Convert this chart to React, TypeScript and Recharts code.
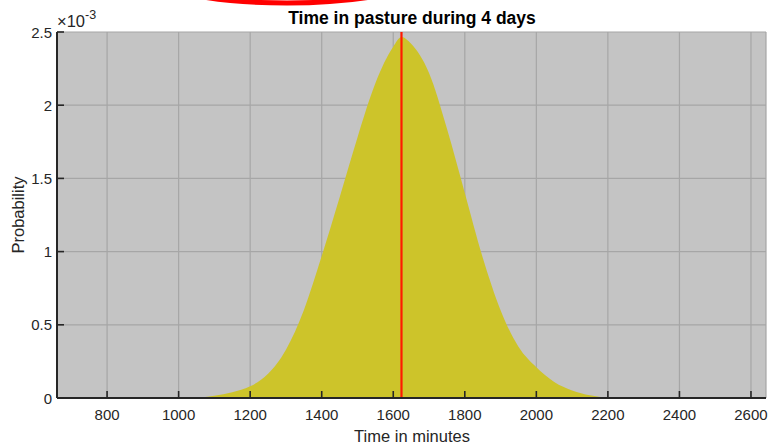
import React from 'react';
import { AreaChart, Area, XAxis, YAxis, CartesianGrid, ReferenceLine } from 'recharts';

const minutes = [1050, 1100, 1150, 1200, 1250, 1300, 1350, 1400, 1450, 1500, 1550, 1600, 1623, 1650, 1700, 1750, 1800, 1850, 1900, 1950, 2000, 2050, 2100, 2150, 2200];
const probability = [0, 0.015, 0.04, 0.08, 0.165, 0.33, 0.6, 0.97, 1.37, 1.78, 2.15, 2.4, 2.466, 2.42, 2.22, 1.84, 1.4, 0.96, 0.6, 0.35, 0.21, 0.11, 0.052, 0.018, 0];
const xTicks = [800, 1000, 1200, 1400, 1600, 1800, 2000, 2200, 2400, 2600];
const yTicks = [0, 0.5, 1, 1.5, 2, 2.5];
const meanMinutes = 1623;
const xDomain = [660, 2642];
const yDomain = [0, 2.5];

const data = minutes.map((m, i) => ({ m, p: probability[i] }));

const FONT = '"Liberation Sans", Arial, Helvetica, sans-serif';
const INK = '#262626';
const TICK_LEN = 7;
const MARGIN = { top: 32, right: 3, bottom: 0, left: 0 };

const EmptyTick = () => <g />;

const BottomTick = (props: any) => {
  const { x, y, payload } = props;
  return (
    <g>
      <line x1={x} x2={x} y1={y} y2={y - TICK_LEN} stroke={INK} strokeWidth={1.6} />
      <text x={x} y={y + 22} textAnchor="middle" fontSize={15} fontFamily={FONT} fill={INK}>
        {payload.value}
      </text>
    </g>
  );
};

const TopTick = (props: any) => {
  const { x, y } = props;
  return <line x1={x} x2={x} y1={y} y2={y + TICK_LEN} stroke={INK} strokeWidth={1.6} />;
};

const LeftTick = (props: any) => {
  const { x, y, payload } = props;
  return (
    <g>
      <line x1={x} x2={x + TICK_LEN} y1={y} y2={y} stroke={INK} strokeWidth={1.6} />
      <text x={x - 5} y={y + 5.5} textAnchor="end" fontSize={15} fontFamily={FONT} fill={INK}>
        {String(payload.value)}
      </text>
    </g>
  );
};

const RightTick = (props: any) => {
  const { x, y } = props;
  return <line x1={x} x2={x - TICK_LEN} y1={y} y2={y} stroke={INK} strokeWidth={1.6} />;
};

function Axes(props: { visible: boolean }) {
  const v = props.visible;
  return [
    <XAxis
      key="xb"
      xAxisId={0}
      dataKey="m"
      type="number"
      domain={xDomain}
      ticks={xTicks}
      allowDataOverflow
      height={46}
      tickSize={0}
      tickMargin={0}
      tickLine={false}
      axisLine={v ? { stroke: INK, strokeWidth: 2 } : false}
      tick={v ? BottomTick : EmptyTick}
      interval={0}
    />,
    <XAxis
      key="xt"
      xAxisId="top"
      orientation="top"
      dataKey="m"
      type="number"
      domain={xDomain}
      ticks={xTicks}
      allowDataOverflow
      height={0}
      tickSize={0}
      tickMargin={0}
      tickLine={false}
      axisLine={v ? { stroke: INK, strokeWidth: 2 } : false}
      tick={v ? TopTick : EmptyTick}
      interval={0}
    />,
    <YAxis
      key="yl"
      yAxisId={0}
      type="number"
      domain={yDomain}
      ticks={yTicks}
      allowDataOverflow
      width={57}
      tickSize={0}
      tickMargin={0}
      tickLine={false}
      axisLine={v ? { stroke: INK, strokeWidth: 2 } : false}
      tick={v ? LeftTick : EmptyTick}
      interval={0}
    />,
    <YAxis
      key="yr"
      yAxisId="right"
      orientation="right"
      type="number"
      domain={yDomain}
      ticks={yTicks}
      allowDataOverflow
      width={0}
      tickSize={0}
      tickMargin={0}
      tickLine={false}
      axisLine={v ? { stroke: INK, strokeWidth: 2 } : false}
      tick={v ? RightTick : EmptyTick}
      interval={0}
    />,
  ];
}

export default function App() {
  return (
    <div style={{ position: 'absolute', left: 0, top: 0, width: 769, height: 444, background: '#ffffff' }}>
      <div style={{ position: 'absolute', left: 0, top: 0 }}>
        <AreaChart width={769} height={444} data={data} margin={MARGIN}>
          <CartesianGrid
            xAxisId={0}
            yAxisId={0}
            fill="#c4c4c4"
            fillOpacity={1}
            stroke="#a6a6a6"
            strokeWidth={1.2}
          />
          {Axes({ visible: false })}
          <Area
            xAxisId={0}
            yAxisId={0}
            type="monotone"
            dataKey="p"
            fill="#cdc42a"
            fillOpacity={1}
            stroke="none"
            isAnimationActive={false}
            dot={false}
            activeDot={false}
          />
          <ReferenceLine xAxisId={0} yAxisId={0} x={meanMinutes} stroke="#ff1a00" strokeWidth={2.2} />
        </AreaChart>
      </div>
      <div style={{ position: 'absolute', left: 0, top: 0, pointerEvents: 'none' }}>
        <AreaChart width={769} height={444} data={data} margin={MARGIN}>
          {Axes({ visible: true })}
        </AreaChart>
      </div>
      <svg
        width={769}
        height={444}
        style={{ position: 'absolute', left: 0, top: 0, pointerEvents: 'none' }}
      >
        <ellipse cx={287} cy={-31} rx={147} ry={34} fill="none" stroke="#ff0000" strokeWidth={5} />
        <text x={412} y={24} textAnchor="middle" fontSize={17.5} fontWeight="bold" fontFamily={FONT} fill="#000">
          Time in pasture during 4 days
        </text>
        <text x={57} y={27} fontSize={16.5} fontFamily={FONT} fill={INK}>
          ×10
          <tspan fontSize={12.5} dy={-8}>-3</tspan>
        </text>
        <text x={412} y={442} textAnchor="middle" fontSize={16.5} fontFamily={FONT} fill={INK}>
          Time in minutes
        </text>
        <text
          x={24}
          y={215}
          textAnchor="middle"
          fontSize={16.5}
          fontFamily={FONT}
          fill={INK}
          transform="rotate(-90 24 215)"
        >
          Probability
        </text>
      </svg>
    </div>
  );
}
